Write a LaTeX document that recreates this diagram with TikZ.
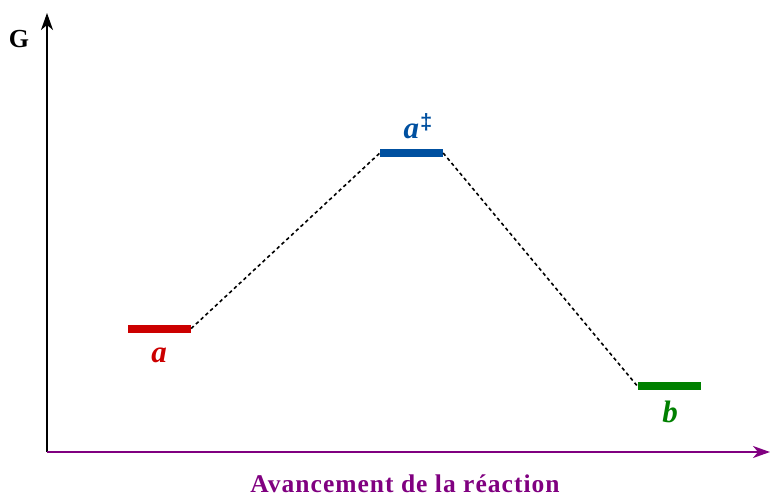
\documentclass[tikz,border=0pt]{standalone}
\usepackage{fontspec}
\setmainfont{Liberation Serif}
\setsansfont{Liberation Sans}
\usetikzlibrary{arrows.meta, positioning, calc}

\definecolor{lvlred}{RGB}{204,0,0}
\definecolor{lvlblue}{RGB}{0,80,160}
\definecolor{lvlgreen}{RGB}{0,128,0}
\definecolor{axpurple}{RGB}{128,0,128}

\begin{document}
\begin{tikzpicture}[x=1pt, y=-1pt]
        \tikzstyle{level} = [rectangle, minimum width=63pt, minimum height=8pt, inner sep=0pt]
        \tikzstyle{lvllabel} = [anchor=base, inner sep=0pt, font=\bfseries\itshape\fontsize{31}{32}\selectfont]
        \tikzstyle{axis} = [line width=1.8pt, -{Stealth[length=17pt, width=12pt, inset=5pt]}]
        \tikzstyle{link} = [line width=1.6pt, dash pattern=on 3.5pt off 3pt]

        \useasboundingbox (0,0) rectangle (770,496);

        \coordinate (origin) at (47,452);
        \coordinate (ytip) at (47,13);
        \coordinate (xtip) at (770,452);

        \draw [axis] (origin) -- (ytip);
        \draw [axis, axpurple] (origin) -- (xtip);

        \node (G) [anchor=base, inner sep=0pt, font=\bfseries\fontsize{26}{27}\selectfont] at (19,47) {G};
        \node (xlab) [anchor=base, inner sep=0pt, text=axpurple, font=\bfseries\fontsize{25.5}{27}\selectfont] at (405,492) {\addfontfeature{LetterSpace=4}Avancement de la réaction};

        \node (a) [level, fill=lvlred] at (159.5,328.5) {};
        \node (ts) [level, fill=lvlblue] at (411.5,153) {};
        \node (b) [level, fill=lvlgreen] at (669,386) {};

        \node (la) [lvllabel, text=lvlred] at (159,362) {a};
        \node (lts) [lvllabel, text=lvlblue] at (418,138) {a\hspace{1pt}\raisebox{9pt}{\sffamily\upshape\fontsize{22}{22}\selectfont ‡}};
        \node (lb) [lvllabel, text=lvlgreen] at (670,422) {b};

        \draw [link] (a.east) -- (ts.west);
        \draw [link] (ts.east) -- (b.west);
    \end{tikzpicture}
\end{document}
